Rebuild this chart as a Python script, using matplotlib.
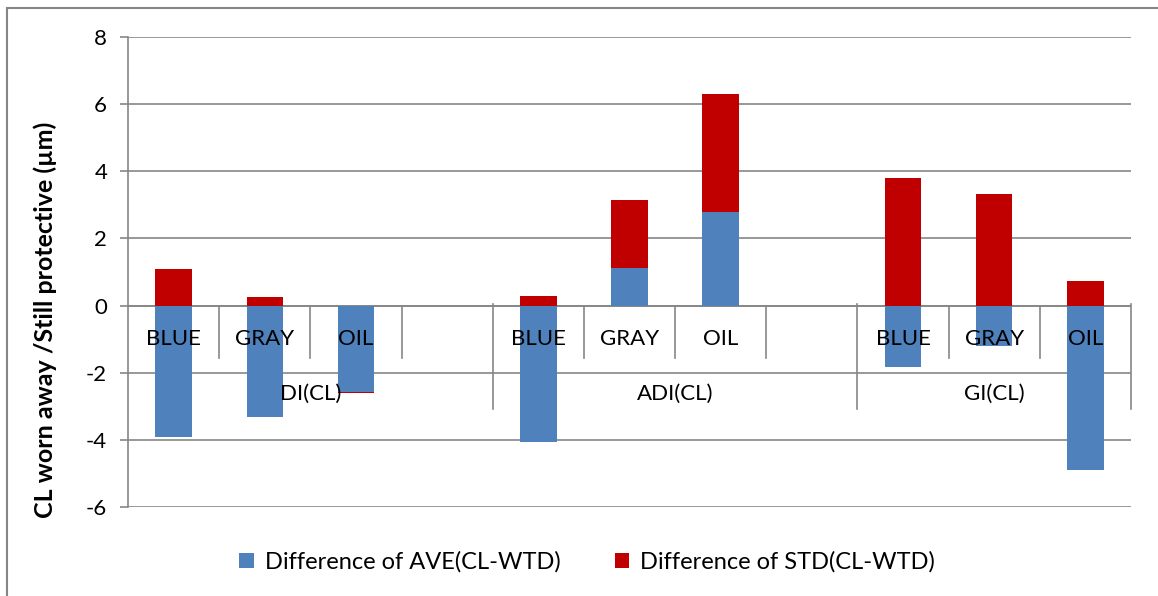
import numpy as np
import matplotlib
matplotlib.use("Agg")
import matplotlib.pyplot as plt
from matplotlib.patches import Patch, Rectangle

# ---- data ----
group_names = ["DI(CL)", "ADI(CL)", "GI(CL)"]
group_sizes = [4, 4, 3]
slot_labels = ["BLUE", "GRAY", "OIL", "", "BLUE", "GRAY", "OIL", "", "BLUE", "GRAY", "OIL"]
ave_diff = [-3.92, -3.31, -2.56, np.nan, -4.05, 1.13, 2.78, np.nan, -1.84, -1.19, -4.90]
std_diff = [1.09, 0.27, -0.05, np.nan, 0.29, 2.02, 3.52, np.nan, 3.81, 3.33, 0.73]
series_names = ["Difference of AVE(CL-WTD)", "Difference of STD(CL-WTD)"]
y_ticks = [-6, -4, -2, 0, 2, 4, 6, 8]
y_label = "CL worn away /Still protective (\u00b5m)"

BLUE = "#4F81BD"
RED = "#C00000"
GRID = "#868686"
FONT = "Lato"
FS = 16

plt.rcParams["font.family"] = [FONT, "DejaVu Sans"]

W, H = 1158, 596
fig = plt.figure(figsize=(W / 100, H / 100), dpi=100)
ax = fig.add_axes([128 / W, 1 - 507 / H, (1131 - 128) / W, (507 - 37) / H])

n = len(slot_labels)
x = np.arange(n)
ave = np.array(ave_diff, dtype=float)
std = np.array(std_diff, dtype=float)
std_bottom = np.where(np.sign(ave) == np.sign(std), ave, 0.0)

bw = 0.4
ax.bar(x, ave, width=bw, color=BLUE, zorder=3, linewidth=0)
ax.bar(x, std, width=bw, bottom=std_bottom, color=RED, zorder=3, linewidth=0)

ax.set_xlim(-0.5, n - 0.5)
ax.set_ylim(min(y_ticks), max(y_ticks))
ax.set_yticks(y_ticks)
ax.set_yticklabels([str(t) for t in y_ticks], fontsize=FS)
ax.tick_params(axis="y", length=6, width=1.2, color=GRID, pad=9)
ax.set_xticks([])
for s in ["top", "right", "bottom"]:
    ax.spines[s].set_visible(False)
ax.spines["left"].set_color(GRID)
ax.spines["left"].set_linewidth(1.2)
ax.yaxis.grid(True, color=GRID, linewidth=1.2, zorder=0)
ax.set_axisbelow(True)

ax.axhline(0, color=GRID, linewidth=1.2, zorder=2)

# multi-level category axis
lvl1_tick = -1.55
lvl2_tick = -3.07
lvl1_text = -1.0
lvl2_text = -2.62
for i, lab in enumerate(slot_labels):
    if lab:
        ax.text(i, lvl1_text, lab, ha="center", va="center", fontsize=FS, zorder=5)
starts = np.cumsum([0] + group_sizes)
group_bounds = set(int(s) for s in starts)
for b in range(n + 1):
    xb = b - 0.5
    if b in group_bounds:
        if b == 0:
            continue
        ax.plot([xb, xb], [0.05, lvl2_tick], color=GRID, lw=1.2, zorder=2, clip_on=False)
    else:
        ax.plot([xb, xb], [0, lvl1_tick], color=GRID, lw=1.2, zorder=2)
for g, name in enumerate(group_names):
    cx = (starts[g] + starts[g + 1] - 1) / 2.0
    ax.text(cx, lvl2_text, name, ha="center", va="center", fontsize=FS, zorder=5)

# y label
fig.text(45 / W, 1 - 320 / H, y_label, rotation=90, ha="center", va="center",
         fontsize=18, fontweight="bold")

# legend
handles = [Patch(facecolor=BLUE, edgecolor="none"), Patch(facecolor=RED, edgecolor="none")]
fig.legend(handles, series_names, loc="center", bbox_to_anchor=(587 / W, 1 - 562 / H),
           ncol=2, frameon=False, fontsize=17, handlelength=0.62, handleheight=0.62,
           handletextpad=0.45, columnspacing=2.3, borderpad=0)

# outer border
fig.patches.append(Rectangle((7.5 / W, -0.1), 1.2, 1 - 7.5 / H + 0.1, transform=fig.transFigure,
                             fill=False, edgecolor=GRID, linewidth=1.5))

fig.savefig("out.png", dpi=100)
